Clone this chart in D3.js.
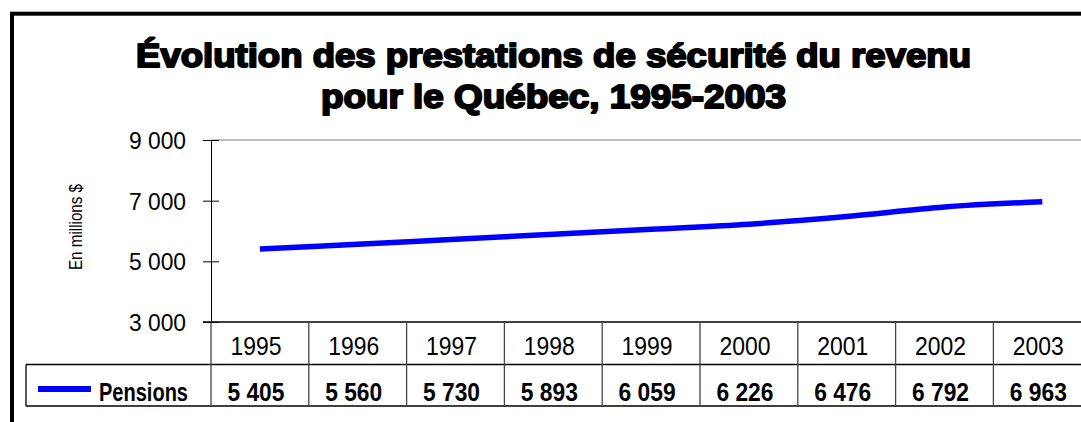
<!DOCTYPE html>
<html>
<head>
<meta charset="utf-8">
<script src="https://cdn.jsdelivr.net/npm/d3@7"></script>
<style>
  body { margin: 0; background: #fff; }
  svg { display: block; }
  .narrow { font-family: "Liberation Sans", Arial, sans-serif; }
</style>
</head>
<body>
<svg id="chart" width="1081" height="422" viewBox="0 0 1081 422"></svg>
<script>
// data
const years = ["1995", "1996", "1997", "1998", "1999", "2000", "2001", "2002", "2003"];
const pensions = [5405, 5560, 5730, 5893, 6059, 6226, 6476, 6792, 6963];
const yTicks = [3000, 5000, 7000, 9000];
const titleLines = ["Évolution des prestations de sécurité du revenu", "pour le Québec, 1995-2003"];
const seriesName = "Pensions";
const yLabel = "En millions $";

function drawChart(svgRef) {
  const svg = d3.select(svgRef);
  svg.selectAll("*").remove();

  const plot = { left: 211, top: 140, bottom: 322, colWidth: 97.8 };
  const tableRows = { header: 322, values: 364.5, bottom: 406 };
  const legendLeft = 26;

  const fr = d3.formatLocale({ decimal: ",", thousands: " ", grouping: [3], currency: ["", " $"] });
  const fmt = fr.format(",d");

  const x = d3
    .scaleBand()
    .domain(years)
    .range([plot.left, plot.left + plot.colWidth * years.length]);

  const y = d3.scaleLinear().domain([3000, 9000]).range([plot.bottom, plot.top]);

  // chart area border (only top and left visible, the rest is cropped)
  svg
    .append("rect")
    .attr("x", 12)
    .attr("y", 13.7)
    .attr("width", 1200)
    .attr("height", 600)
    .attr("fill", "none")
    .attr("stroke", "#000")
    .attr("stroke-width", 4);

  // title (heavy face imitated with a stroke)
  const titleWidths = [835, 465];
  const titleBase = [67, 108];
  svg
    .selectAll("text.title")
    .data(titleLines)
    .enter()
    .append("text")
    .attr("class", "title")
    .attr("x", 553.5)
    .attr("y", (d, i) => titleBase[i])
    .attr("text-anchor", "middle")
    .attr("textLength", (d, i) => titleWidths[i])
    .attr("lengthAdjust", "spacingAndGlyphs")
    .style("font-family", "'Liberation Sans', Arial, sans-serif")
    .style("font-weight", "bold")
    .style("font-size", "34px")
    .style("fill", "#000")
    .style("stroke", "#000")
    .style("stroke-width", "2px")
    .style("stroke-linejoin", "round")
    .text((d) => d);

  // top border of plot area
  svg
    .append("line")
    .attr("x1", plot.left)
    .attr("x2", 1081)
    .attr("y1", y(9000))
    .attr("y2", y(9000))
    .attr("stroke", "#808080")
    .attr("stroke-width", 1);

  // y axis
  const yAxisG = svg.append("g").attr("transform", `translate(${plot.left},0)`);
  yAxisG.call(
    d3.axisLeft(y).tickValues(yTicks).tickFormat(fmt).tickSize(8).tickSizeOuter(0).tickPadding(17)
  );
  yAxisG.select(".domain").attr("stroke", "#000");
  yAxisG
    .selectAll(".tick line")
    .attr("x1", -8)
    .attr("x2", 8)
    .attr("stroke", "#000");
  yAxisG
    .selectAll(".tick text")
    .attr("class", "narrow")
    .attr("dy", "0.36em")
    .attr("textLength", 57)
    .attr("lengthAdjust", "spacingAndGlyphs")
    .style("font-size", "24px")
    .style("fill", "#000");

  // y label
  svg
    .append("text")
    .attr("class", "narrow")
    .attr("transform", "translate(82,227) rotate(-90)")
    .attr("text-anchor", "middle")
    .attr("textLength", 86)
    .attr("lengthAdjust", "spacingAndGlyphs")
    .style("font-size", "18px")
    .style("fill", "#000")
    .text(yLabel);

  // data table
  const tableG = svg.append("g").attr("class", "tableG");
  const rightEdge = 1081;

  tableG
    .append("line")
    .attr("x1", plot.left - 8)
    .attr("x2", rightEdge)
    .attr("y1", tableRows.header)
    .attr("y2", tableRows.header)
    .attr("stroke", "#000")
    .attr("stroke-width", 1.3);

  [tableRows.values, tableRows.bottom].forEach((ty) => {
    tableG
      .append("line")
      .attr("x1", legendLeft)
      .attr("x2", rightEdge)
      .attr("y1", ty)
      .attr("y2", ty)
      .attr("stroke", "#000")
      .attr("stroke-width", 1.3);
  });

  tableG
    .append("line")
    .attr("x1", legendLeft)
    .attr("x2", legendLeft)
    .attr("y1", tableRows.values)
    .attr("y2", tableRows.bottom)
    .attr("stroke", "#000")
    .attr("stroke-width", 1.3);

  tableG
    .selectAll("line.col")
    .data(years.concat(["end"]))
    .enter()
    .append("line")
    .attr("class", "col")
    .attr("x1", (d, i) => plot.left + i * x.bandwidth())
    .attr("x2", (d, i) => plot.left + i * x.bandwidth())
    .attr("y1", tableRows.header)
    .attr("y2", tableRows.bottom)
    .attr("stroke", "#444")
    .attr("stroke-width", 1.3);

  tableG
    .selectAll("text.year")
    .data(years)
    .enter()
    .append("text")
    .attr("class", "narrow year")
    .attr("x", (d) => x(d) + x.bandwidth() / 2 - 4)
    .attr("y", 355)
    .attr("text-anchor", "middle")
    .attr("textLength", 51)
    .attr("lengthAdjust", "spacingAndGlyphs")
    .style("font-size", "26px")
    .style("fill", "#000")
    .text((d) => d);

  tableG
    .selectAll("text.value")
    .data(pensions)
    .enter()
    .append("text")
    .attr("class", "narrow value")
    .attr("x", (d, i) => x(years[i]) + x.bandwidth() / 2 - 4)
    .attr("y", 401)
    .attr("text-anchor", "middle")
    .attr("textLength", 57)
    .attr("lengthAdjust", "spacingAndGlyphs")
    .style("font-size", "25px")
    .style("font-weight", "bold")
    .style("fill", "#000")
    .text((d) => fmt(d));

  // legend key inside the table
  tableG
    .append("line")
    .attr("x1", 38)
    .attr("x2", 91)
    .attr("y1", 389)
    .attr("y2", 389)
    .attr("stroke", "#0000FF")
    .attr("stroke-width", 6);

  tableG
    .append("text")
    .attr("class", "narrow")
    .attr("x", 99)
    .attr("y", 401)
    .attr("textLength", 89)
    .attr("lengthAdjust", "spacingAndGlyphs")
    .style("font-size", "25px")
    .style("font-weight", "bold")
    .style("fill", "#000")
    .text(seriesName);

  // the series line
  const line = d3
    .line()
    .x((d, i) => x(years[i]) + x.bandwidth() / 2)
    .y((d) => y(d))
    .curve(d3.curveCatmullRom.alpha(0.5));

  svg
    .append("path")
    .datum(pensions)
    .attr("d", line)
    .attr("fill", "none")
    .attr("stroke", "#0000FF")
    .attr("stroke-width", 5.5);
}

drawChart(document.getElementById("chart"));
</script>
</body>
</html>
